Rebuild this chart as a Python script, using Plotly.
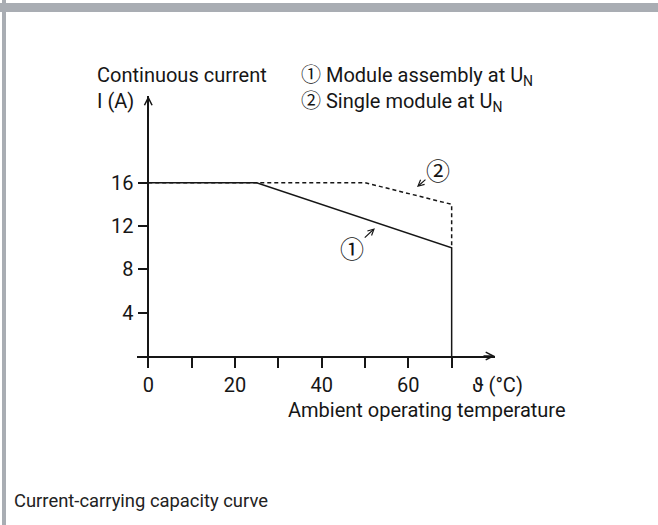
import plotly.graph_objects as go

# ---- data ----
temp_assembly = [0, 25, 70, 70]
current_assembly = [16, 16, 10, 0]
temp_single = [0, 50, 70, 70]
current_single = [16, 16, 14, 10]
x_tick_vals = [0, 10, 20, 30, 40, 50, 60, 70]
x_tick_text = ["0", "", "20", "", "40", "", "60", ""]
y_tick_vals = [4, 8, 12, 16]
y_tick_text = ["4", "8", "12", "16"]
legend_lines = ["Module assembly at U<sub>N</sub>", "Single module at U<sub>N</sub>"]
marks = ["①", "②"]

# ---- layout geometry (pixels) ----
FW, FH = 658, 525
L, R, T, B = 137, 163, 96, 169
PW, PH = FW - L - R, FH - T - B
X0, X1 = -2.6, 80
Y0, Y1 = 0, 24


def px(x):
    return (x - L) / PW


def py(y):
    return (T + PH - y) / PH


INK = "#161616"
FONT = "Roboto, Liberation Sans, DejaVu Sans, sans-serif"
MARKFONT = "Noto Sans CJK JP, DejaVu Sans"

fig = go.Figure()
fig.add_trace(go.Scatter(x=temp_single, y=current_single, mode="lines",
                         line=dict(color=INK, width=1.5, dash="4px,3px"),
                         hoverinfo="skip", cliponaxis=False))
fig.add_trace(go.Scatter(x=temp_assembly, y=current_assembly, mode="lines",
                         line=dict(color=INK, width=1.5),
                         hoverinfo="skip", cliponaxis=False))

ann = []
# axis arrows
ann.append(dict(x=80, y=0, ax=77, ay=0, xref="x", yref="y", axref="x", ayref="y",
                text="", showarrow=True, arrowhead=5, arrowsize=1.0, arrowwidth=1.5,
                arrowcolor=INK))
ann.append(dict(x=0, y=24, ax=0, ay=22, xref="x", yref="y", axref="x", ayref="y",
                text="", showarrow=True, arrowhead=5, arrowsize=1.0, arrowwidth=1.5,
                arrowcolor=INK))
# curve markers
ann.append(dict(x=52.3, y=11.8, ax=49.6, ay=10.8, xref="x", yref="y", axref="x", ayref="y",
                text="", showarrow=True, arrowhead=5, arrowsize=1.0, arrowwidth=1.2,
                arrowcolor=INK))
ann.append(dict(x=46.9, y=10.0, xref="x", yref="y", text=marks[0], showarrow=False,
                font=dict(size=24, color=INK, family=MARKFONT)))
ann.append(dict(x=62.0, y=15.6, ax=64.3, ay=16.4, xref="x", yref="y", axref="x", ayref="y",
                text="", showarrow=True, arrowhead=5, arrowsize=1.0, arrowwidth=1.2,
                arrowcolor=INK))
ann.append(dict(x=66.9, y=17.2, xref="x", yref="y", text=marks[1], showarrow=False,
                font=dict(size=24, color=INK, family=MARKFONT)))


# texts
def txt(t, x, y, size=20, family=FONT):
    ann.append(dict(x=px(x), y=py(y), xref="paper", yref="paper", text=t,
                    showarrow=False, xanchor="left", yanchor="middle", align="left",
                    font=dict(size=size, color=INK, family=family)))


txt("Continuous current<br>I (A)", 95, 88)
legend_text = "<br>".join(
    '<span style="font-family:Noto Sans CJK JP;font-size:20px">' + m + '</span> ' + line
    for m, line in zip(marks, legend_lines))
txt(legend_text, 299, 87)
txt("ϑ (°C)", 470, 385)
txt("Ambient operating temperature", 286, 410)
ann.append(dict(x=px(12), y=py(500), xref="paper", yref="paper",
                text="Current-carrying capacity curve", showarrow=False,
                xanchor="left", yanchor="middle",
                font=dict(size=18.4, color="#222222", family="Roboto, Inter, sans-serif")))

# frame (top bar and left bar)
BORDER = "#a9adb3"
shapes = [
    dict(type="rect", xref="paper", yref="paper", x0=px(0), x1=px(FW), y0=py(12), y1=py(3),
         fillcolor=BORDER, line=dict(width=0), layer="below"),
    dict(type="rect", xref="paper", yref="paper", x0=px(2), x1=px(6), y0=py(FH), y1=py(0),
         fillcolor=BORDER, line=dict(width=0), layer="below"),
]

fig.update_layout(
    width=FW, height=FH,
    margin=dict(l=L, r=R, t=T, b=B, pad=0),
    paper_bgcolor="white", plot_bgcolor="white",
    showlegend=False,
    annotations=ann,
    shapes=shapes,
    font=dict(family=FONT, size=20, color=INK),
    xaxis=dict(range=[X0, X1], showgrid=False, zeroline=False, showline=True,
               linecolor=INK, linewidth=1.5, ticks="outside", ticklen=10, tickwidth=1.5,
               tickcolor=INK, tickvals=x_tick_vals, ticktext=x_tick_text,
               tickfont=dict(size=20, color=INK, family=FONT), fixedrange=True),
    yaxis=dict(range=[Y0, Y1], showgrid=False, zeroline=False, showline=True,
               linecolor=INK, linewidth=1.5, ticks="outside", ticklen=10, tickwidth=1.5,
               tickcolor=INK, tickvals=y_tick_vals, ticktext=y_tick_text,
               anchor="free", position=(0 - X0) / (X1 - X0),
               tickfont=dict(size=20, color=INK, family=FONT), fixedrange=True),
)

fig.write_html("out.html", config={"displayModeBar": False},
               post_script="document.body.style.margin='0';document.body.style.padding='0';")
